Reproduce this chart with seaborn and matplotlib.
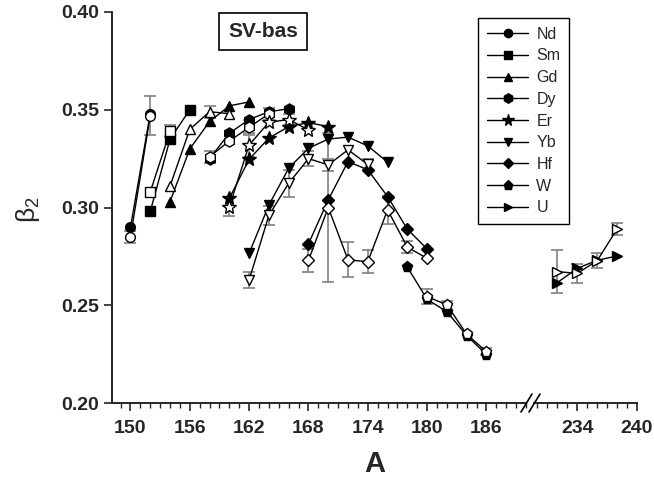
import numpy as np
import pandas as pd
import matplotlib
matplotlib.use("Agg")
import matplotlib.pyplot as plt
import seaborn as sns
from matplotlib.lines import Line2D
from matplotlib.ticker import MultipleLocator, FormatStrFormatter

# ---------------- data ----------------
Nd_A = [150, 152]
Nd_fill = [0.290, 0.348]
Nd_open_A = [150, 152]
Nd_open = [0.285, 0.347]
Nd_err = [0.003, 0.010]

Sm_A = [152, 154, 156]
Sm_fill = [0.298, 0.335, 0.350]
Sm_open_A = [152, 154]
Sm_open = [0.308, 0.339]
Sm_err = [0.0, 0.003]

Gd_A = [154, 156, 158, 160, 162]
Gd_fill = [0.303, 0.330, 0.344, 0.352, 0.354]
Gd_open_A = [154, 156, 158, 160]
Gd_open = [0.311, 0.340, 0.349, 0.348]
Gd_err = [0.0, 0.0, 0.003, 0.0]

Dy_A = [158, 160, 162, 164, 166]
Dy_fill = [0.325, 0.338, 0.345, 0.349, 0.3505]
Dy_open_A = [158, 160, 162, 164]
Dy_open = [0.326, 0.334, 0.341, 0.348]
Dy_err = [0.003, 0.0, 0.004, 0.003]

Er_A = [160, 162, 164, 166, 168, 170]
Er_fill = [0.3047, 0.3247, 0.3355, 0.3414, 0.3434, 0.3414]
Er_open_A = [160, 162, 164, 166, 168]
Er_open = [0.3005, 0.332, 0.3436, 0.345, 0.3397]
Er_err = [0.005, 0.006, 0.0, 0.003, 0.0]

Yb_A = [162, 164, 166, 168, 170, 172, 174, 176]
Yb_fill = [0.2766, 0.3013, 0.3201, 0.3303, 0.335, 0.336, 0.3315, 0.3232]
Yb_open_A = [162, 164, 166, 168, 170, 172, 174]
Yb_open = [0.263, 0.296, 0.3124, 0.325, 0.3218, 0.3295, 0.322]
Yb_err = [0.004, 0.005, 0.007, 0.004, 0.003, 0.0, 0.003]

Hf_A = [168, 170, 172, 174, 176, 178, 180]
Hf_fill = [0.2814, 0.3039, 0.3235, 0.3193, 0.3056, 0.2889, 0.2788]
Hf_open_A = [168, 170, 172, 174, 176, 178, 180]
Hf_open = [0.273, 0.300, 0.2732, 0.2723, 0.2988, 0.2797, 0.274]
Hf_err = [0.006, 0.038, 0.009, 0.006, 0.007, 0.003, 0.0]

W_A = [178, 180, 182, 184, 186]
W_fill = [0.2695, 0.253, 0.2467, 0.2345, 0.2248]
W_open_A = [180, 182, 184, 186]
W_open = [0.2544, 0.2502, 0.2352, 0.2263]
W_err = [0.004, 0.002, 0.0, 0.002]

U_A = [232, 234, 236, 238]
U_fill = [0.2616, 0.2689, 0.273, 0.2752]
U_open_A = [232, 234, 236, 238]
U_open = [0.2672, 0.2663, 0.2728, 0.289]
U_err = [0.011, 0.005, 0.004, 0.003]

elements = ["Nd", "Sm", "Gd", "Dy", "Er", "Yb", "Hf", "W", "U"]
markers = {"Nd": "o", "Sm": "s", "Gd": "^", "Dy": "h", "Er": "*",
           "Yb": "v", "Hf": "D", "W": "p", "U": ">"}
msizes = {"Nd": 7, "Sm": 7, "Gd": 7.5, "Dy": 8, "Er": 10,
          "Yb": 7.5, "Hf": 6.5, "W": 8, "U": 7.5}
series = {
    "Nd": (Nd_A, Nd_fill, Nd_open_A, Nd_open, Nd_err),
    "Sm": (Sm_A, Sm_fill, Sm_open_A, Sm_open, Sm_err),
    "Gd": (Gd_A, Gd_fill, Gd_open_A, Gd_open, Gd_err),
    "Dy": (Dy_A, Dy_fill, Dy_open_A, Dy_open, Dy_err),
    "Er": (Er_A, Er_fill, Er_open_A, Er_open, Er_err),
    "Yb": (Yb_A, Yb_fill, Yb_open_A, Yb_open, Yb_err),
    "Hf": (Hf_A, Hf_fill, Hf_open_A, Hf_open, Hf_err),
    "W": (W_A, W_fill, W_open_A, W_open, W_err),
    "U": (U_A, U_fill, U_open_A, U_open, U_err),
}

# ---------------- style ----------------
sns.set_theme(style="ticks")
plt.rcParams["font.family"] = ["Liberation Sans", "DejaVu Sans"]
plt.rcParams["axes.linewidth"] = 1.4
plt.rcParams["mathtext.fontset"] = "custom"
plt.rcParams["mathtext.rm"] = "Liberation Sans"

W_PX, H_PX = 654, 480
fig = plt.figure(figsize=(W_PX / 100, H_PX / 100), dpi=100)

y_bot, y_top = 403, 12
axL = fig.add_axes([112 / W_PX, 1 - y_bot / H_PX, (526 - 112) / W_PX, (y_bot - y_top) / H_PX])
axR = fig.add_axes([534 / W_PX, 1 - y_bot / H_PX, (637 - 534) / W_PX, (y_bot - y_top) / H_PX],
                   sharey=axL)

for el in elements:
    A, yf, Ao, yo, e = series[el]
    ax = axR if el == "U" else axL
    m = markers[el]
    ms = msizes[el]
    e = np.array(e)
    mask = e > 0
    if mask.any():
        ax.errorbar(np.array(Ao)[mask], np.array(yo)[mask], yerr=e[mask], fmt="none",
                    ecolor="#808080", elinewidth=1.2, capsize=4, capthick=1.2, zorder=2)
    df_f = pd.DataFrame({"A": A, "beta": yf})
    df_o = pd.DataFrame({"A": Ao, "beta": yo})
    sns.lineplot(data=df_f, x="A", y="beta", ax=ax, color="black", marker=m, markersize=ms,
                 markerfacecolor="black", markeredgecolor="black", markeredgewidth=1,
                 linewidth=1, estimator=None, sort=False, zorder=3)
    sns.lineplot(data=df_o, x="A", y="beta", ax=ax, color="black", marker=m, markersize=ms,
                 markerfacecolor="white", markeredgecolor="black", markeredgewidth=1,
                 linewidth=1, estimator=None, sort=False, zorder=4)

# ---------------- axes ----------------
axL.set_xlim(148.13, 190.0)
axR.set_xlim(229.65, 240.0)
axL.set_ylim(0.20, 0.40)

axL.set_xticks([150, 156, 162, 168, 174, 180, 186])
axR.set_xticks([234, 240])
for ax in (axL, axR):
    ax.xaxis.set_minor_locator(MultipleLocator(1))
    ax.set_xlabel("")
    ax.set_ylabel("")
    ax.spines["top"].set_visible(False)
    ax.spines["right"].set_visible(False)
    ax.tick_params(axis="x", which="major", direction="out", length=6, width=1.2,
                   labelsize=14, pad=6)
    ax.tick_params(axis="x", which="minor", direction="out", length=3.5, width=1.0)
    for lab in ax.get_xticklabels():
        lab.set_fontweight("bold")

axL.set_yticks([0.20, 0.25, 0.30, 0.35, 0.40])
axL.yaxis.set_major_formatter(FormatStrFormatter("%.2f"))
axL.tick_params(axis="y", which="major", direction="out", length=6, width=1.2, labelsize=14)
for lab in axL.get_yticklabels():
    lab.set_fontweight("bold")
axR.spines["left"].set_visible(False)
axR.tick_params(axis="y", which="both", left=False, labelleft=False)

# break marks
yb = 1 - y_bot / H_PX
for x0 in (521, 529):
    fig.add_artist(Line2D([x0 / W_PX, (x0 + 11) / W_PX], [yb - 9 / H_PX, yb + 9 / H_PX],
                          transform=fig.transFigure, color="black", lw=1.2))

# labels
fig.text(375 / W_PX, 1 - 464 / H_PX, "A", ha="center", va="center",
         fontsize=21, fontweight="bold")
fig.text(28 / W_PX, 1 - 210 / H_PX, r"$\mathregular{\beta_2}$", ha="center", va="center",
         fontsize=19, rotation=90)

# title box
axL.text(163.4, 0.390, "SV-bas", ha="center", va="center", fontsize=15, fontweight="bold",
         bbox=dict(boxstyle="square,pad=0.45", fc="white", ec="black", lw=1.2), zorder=6)

# legend
handles = [Line2D([0], [0], color="black", lw=1, marker=markers[el],
                  markersize=msizes[el] * 0.85, markerfacecolor="black",
                  markeredgecolor="black") for el in elements]
leg = fig.legend(handles, elements, loc="upper left",
                 bbox_to_anchor=(478 / W_PX, 1 - 18 / H_PX), bbox_transform=fig.transFigure,
                 borderaxespad=0, frameon=True, fancybox=False, edgecolor="black",
                 framealpha=1, fontsize=11.5, handlelength=2.6, numpoints=1,
                 labelspacing=0.42, borderpad=0.55, handletextpad=0.5)
leg.get_frame().set_linewidth(1.0)

fig.savefig("out.png", dpi=100)
